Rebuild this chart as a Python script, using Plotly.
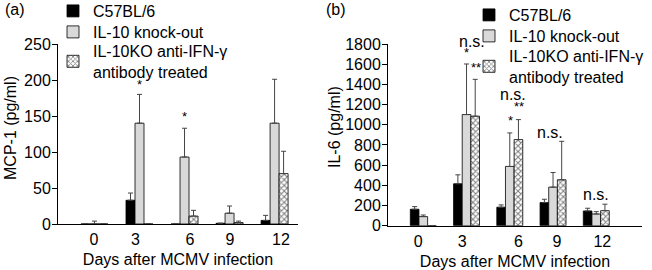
import plotly.graph_objects as go

# ---------------- data ----------------
days = ["0", "3", "6", "9", "12"]
series_names = ["C57BL/6", "IL-10 knock-out", "IL-10KO anti-IFN-γ<br>antibody treated"]

# panel (a) MCP-1 (pg/ml)
mcp1_c57 = [0, 33, 0, 1, 5]
mcp1_c57_err = [0, 10, 0, 0, 7]
mcp1_ko = [0, 140, 93, 15, 140]
mcp1_ko_err = [4, 40, 40, 10, 61]
mcp1_anti = [0, 0, 11, 2, 70]
mcp1_anti_err = [0, 0, 8, 2, 31]

# panel (b) IL-6 (pg/ml)
il6_c57 = [163, 415, 183, 229, 146]
il6_c57_err = [26, 89, 23, 33, 27]
il6_ko = [90, 1101, 587, 382, 116]
il6_ko_err = [16, 501, 332, 145, 23]
il6_anti = [0, 1085, 853, 455, 149]
il6_anti_err = [0, 365, 198, 381, 64]

# significance marks: (group index, bar offset, y, text)
sig_a = [(1, 0.0, 194, "*"), (2, 0.0, 149, "*")]
sig_b = [(1, 0.13, 1828, "n.s."), (1, 0.0, 1718, "*"), (1, 0.22, 1569, "**"),
         (2, 0.08, 1300, "n.s."), (2, 0.22, 1181, "**"), (2, 0.01, 1042, "*"),
         (3, -0.07, 922, "n.s."), (4, 0.0, 305, "n.s.")]

# ---------------- layout constants ----------------
FONT = "Liberation Sans, Arial, Helvetica, sans-serif"
W, H = 652, 270
x_idx = list(range(len(days)))
tick_off_a = [-0.01, -0.09, 0.12, 0.01, 0.14]
tick_off_b = [-0.12, -0.10, 0.20, 0.09, 0.14]
YMAX_A, YMAX_B = 250, 1800
PX_PER_B = (225.7 - 44) / YMAX_B

colors = ["black", "#d9d9d9", "white"]
# legend row centres (px from top) and text start (px from left) per panel
leg_rows_a, leg_text_a = [10, 31, 50], 94
leg_rows_b, leg_text_b = [14, 35, 55], 510


def bar(x, y, err, i, xa, ya, legend):
    marker = dict(color=colors[i], line=dict(color="black", width=0.8))
    if i == 2:
        marker["pattern"] = dict(shape="x", fgcolor="black", bgcolor="white", size=4, solidity=0.45)
    return go.Bar(
        x=x, y=y, name=series_names[i], marker=marker,
        error_y=dict(type="data", array=err, arrayminus=[0] * len(err), symmetric=False,
                     color="#444", thickness=1, width=2.5),
        xaxis=xa, yaxis=ya, legend=legend,
    )


fig = go.Figure()
for i, (v, e) in enumerate([(mcp1_c57, mcp1_c57_err), (mcp1_ko, mcp1_ko_err), (mcp1_anti, mcp1_anti_err)]):
    fig.add_trace(bar(x_idx, v, e, i, "x", "y", "legend" if i == 0 else f"legend{i + 1}"))
for i, (v, e) in enumerate([(il6_c57, il6_c57_err), (il6_ko, il6_ko_err), (il6_anti, il6_anti_err)]):
    fig.add_trace(bar(x_idx, v, e, i, "x2", "y2", f"legend{i + 4}"))

axis_common = dict(showline=True, linecolor="black", linewidth=1, showgrid=False, zeroline=False,
                   tickfont=dict(family=FONT, size=16, color="black"))

ann = []
for g, off, yv, t in sig_a:
    ann.append(dict(x=g + off, y=yv, xref="x", yref="y", text=t, showarrow=False,
                    font=dict(family=FONT, size=13 if "*" in t else 16, color="black")))
for g, off, yv, t in sig_b:
    yp = min(yv, YMAX_B)
    ann.append(dict(x=g + off, y=yp, yshift=(yv - yp) * PX_PER_B, xref="x2", yref="y2", text=t,
                    showarrow=False, font=dict(family=FONT, size=13 if "*" in t else 16, color="black")))
# panel labels and y titles
ann += [
    dict(x=3 / W, y=1 - 10 / H, xref="paper", yref="paper", text="(a)", showarrow=False,
         xanchor="left", yanchor="middle", font=dict(family=FONT, size=16, color="black")),
    dict(x=324 / W, y=1 - 10 / H, xref="paper", yref="paper", text="(b)", showarrow=False,
         xanchor="left", yanchor="middle", font=dict(family=FONT, size=16, color="black")),
    dict(x=10 / W, y=1 - 128 / H, xref="paper", yref="paper", text="MCP-1 (pg/ml)", textangle=-90,
         showarrow=False, xanchor="center", yanchor="middle", font=dict(family=FONT, size=16, color="black")),
    dict(x=335 / W, y=1 - 127 / H, xref="paper", yref="paper", text="IL-6 (pg/ml)", textangle=-90,
         showarrow=False, xanchor="center", yanchor="middle", font=dict(family=FONT, size=16, color="black")),
]

legend_common = dict(font=dict(family=FONT, size=16, color="black"), bgcolor="rgba(0,0,0,0)",
                     xanchor="left", yanchor="top", tracegroupgap=0, itemclick=False,
                     itemdoubleclick=False)
LEG_TOP_TO_ROW = 16  # px from legend top to first text-row centre
LEG_TEXT_OFF = 41    # px from legend left edge to text start

legends = {}
for k, row in enumerate(leg_rows_a):
    key = "legend" if k == 0 else f"legend{k + 1}"
    legends[key] = dict(x=(leg_text_a - LEG_TEXT_OFF) / W, y=1 - (row - LEG_TOP_TO_ROW) / H, **legend_common)
for k, row in enumerate(leg_rows_b):
    legends[f"legend{k + 4}"] = dict(x=(leg_text_b - LEG_TEXT_OFF) / W,
                                     y=1 - (row - LEG_TOP_TO_ROW) / H, **legend_common)

invisible_ticks = dict(ticks="outside", ticklen=1, tickcolor="rgba(0,0,0,0)")

fig.update_layout(
    width=W, height=H, margin=dict(l=0, r=0, t=0, b=0, autoexpand=False),
    paper_bgcolor="white", plot_bgcolor="white",
    barmode="group", bargap=0.4, bargroupgap=0,
    font=dict(family=FONT, size=16, color="black"),
    xaxis=dict(domain=[58 / W, 298 / W], anchor="y", range=[-0.81, 4.52],
               tickvals=[i + o for i, o in zip(x_idx, tick_off_a)], ticktext=days, **invisible_ticks,
               title=dict(text="Days after MCMV infection", standoff=6,
                          font=dict(family=FONT, size=16, color="black")), **axis_common),
    yaxis=dict(domain=[1 - 224 / H, 1 - 44 / H], anchor="x", range=[0, YMAX_A],
               tickvals=[0, 50, 100, 150, 200, 250], ticks="outside", ticklen=5, tickcolor="black",
               ticklabelstandoff=-2, **axis_common),
    xaxis2=dict(domain=[388 / W, 642 / W], anchor="y2", range=[-0.816, 5.057],
                tickvals=[i + o for i, o in zip(x_idx, tick_off_b)], ticktext=days, **invisible_ticks,
                title=dict(text="Days after MCMV infection", standoff=6,
                           font=dict(family=FONT, size=16, color="black")), **axis_common),
    yaxis2=dict(domain=[1 - 225.7 / H, 1 - 44 / H], anchor="x2", range=[0, YMAX_B],
                tickvals=list(range(0, 1801, 200)), ticks="outside", ticklen=5, tickcolor="black",
                ticklabelstandoff=-2, **axis_common),
    annotations=ann,
    showlegend=True,
    **legends,
)

fig.write_html("out.html", config={"displayModeBar": False},
               post_script="document.body.style.margin='0';document.body.style.padding='0';")
